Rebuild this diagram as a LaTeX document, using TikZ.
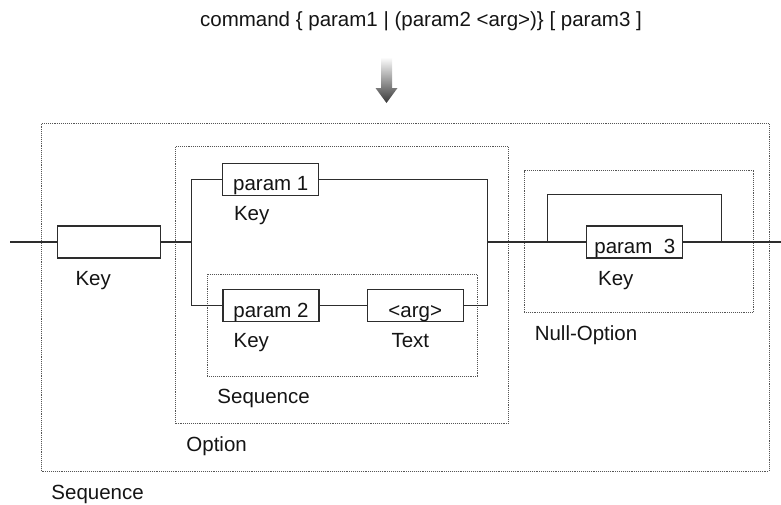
\documentclass[tikz,border=0pt]{standalone}
\usepackage{fontspec}
\setmainfont{Liberation Sans}
\usepackage{tikz}
\usetikzlibrary{positioning, fit}
\definecolor{lnclr}{RGB}{45,45,45}
\definecolor{dotclr}{RGB}{85,85,85}
\definecolor{txtclr}{RGB}{20,20,20}
\newcommand{\dgfont}{\fontsize{20.5pt}{24pt}\selectfont}
\tikzset{
  kbox/.style={rectangle, draw=lnclr, line width=1.2pt, fill=white,
    minimum width=96pt, minimum height=32pt, inner sep=0pt,
    text height=27pt, text depth=4pt, font=\dgfont, text=txtclr},
  grp/.style={rectangle, draw=dotclr, densely dotted, line width=0.9pt,
    inner sep=0pt},
  lbl/.style={inner sep=0pt, font=\dgfont, text=txtclr},
  wire/.style={draw=lnclr, line width=1.2pt}
}

\begin{document}
\begin{tikzpicture}[x=1pt, y=-1pt]
  \useasboundingbox (0,0) rectangle (781,504);
  % title and arrow
  \node[lbl, anchor=base] (cmd) at (421,26) {command \{ param1 | (param2 <arg>)\} [ param3 ]};
  \shade[top color=white, bottom color=black!78]
    (381,57) -- (392,57) -- (392,88) -- (397.5,88) -- (386.5,103)
    -- (375.5,88) -- (381,88) -- cycle;

  % dotted groups
  \node[grp, fit={(41.5,123.3) (769,471)}] (seqout) {};
  \node[grp, fit={(175.7,146.7) (508.3,423.3)}] (opt) {};
  \node[grp, fit={(207.3,274) (477.3,376)}] (seqin) {};
  \node[grp, fit={(524,170.7) (753.3,312.7)}] (nullopt) {};

  % boxes
  \node[kbox, minimum width=103pt] (keybox) at (108.7,242) {};
  \node[kbox] (p1) at (270.8,179.2) {param 1};
  \node[kbox] (p2) at (271,305.6) {param 2};
  \node[kbox, right=47pt of p2] (arg) {<arg>};
  \node[kbox] (p3) at (634.8,242) {param\ \ 3};

  % labels
  \node[lbl, below right=27pt and 18.7pt of keybox.south west, anchor=base west] {Key};
  \node[lbl, below right=25pt and 11.6pt of p1.south west, anchor=base west] {Key};
  \node[lbl, below right=25.3pt and 11pt of p2.south west, anchor=base west] {Key};
  \node[lbl, below right=25.3pt and 24.7pt of arg.south west, anchor=base west] {Text};
  \node[lbl, below right=26.7pt and 11.7pt of p3.south west, anchor=base west] {Key};
  \node[lbl, below right=26.7pt and 10.4pt of seqin.south west, anchor=base west] {Sequence};
  \node[lbl, below right=27.4pt and 11pt of opt.south west, anchor=base west] {Option};
  \node[lbl, below right=27.3pt and 11pt of nullopt.south west, anchor=base west] {Null-Option};
  \node[lbl, below right=28.3pt and 10.2pt of seqout.south west, anchor=base west] {Sequence};

  % connectors
  \coordinate (in) at (10,242);
  \coordinate (sp) at (191.7,242);
  \coordinate (jn) at (487.3,242);
  \coordinate (bl) at (547.7,242);
  \coordinate (br) at (721.7,242);
  \coordinate (out) at (781,242);
  \draw[wire] (in) -- (keybox.west);
  \draw[wire] (keybox.east) -- (sp);
  \draw[wire] (p1.west) -| (sp) |- (p2.west);
  \draw[wire] (p2.east) -- (arg.west);
  \draw[wire] (p1.east) -| (jn) |- (arg.east);
  \draw[wire] (jn) -- (p3.west);
  \draw[wire] (p3.east) -- (out);
  \draw[wire] (bl) -- ++(0,-47.7) -| (br);
\end{tikzpicture}
\end{document}
